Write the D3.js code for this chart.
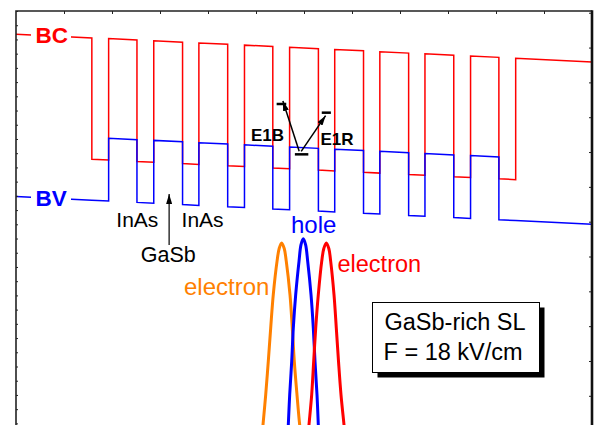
<!DOCTYPE html>
<html>
<head>
<meta charset="utf-8">
<script src="https://cdn.jsdelivr.net/npm/d3@7"></script>
<style>
  html, body { margin: 0; padding: 0; background: #fff; }
  svg { display: block; font-family: "Liberation Sans", Arial, Helvetica, sans-serif; }
</style>
</head>
<body>
<svg id="chart" width="597" height="425"></svg>
<script>
// ---- Superlattice layer stack (growth direction, nm) ----
const layerBounds = [0, 15.8, 19.3, 25.2, 28.7, 34.7, 38.1, 44.1, 47.6, 53.5, 57.0,
                     63.0, 66.4, 72.4, 75.8, 81.8, 85.2, 91.2, 94.7, 100.6, 104.1, 120];
const layerMaterial = ["barrier", "InAs", "GaSb", "InAs", "GaSb", "InAs", "GaSb", "InAs",
                       "GaSb", "InAs", "GaSb", "InAs", "GaSb", "InAs", "GaSb", "InAs",
                       "GaSb", "InAs", "GaSb", "InAs", "barrier"];

// Conduction band edge (eV) at the left and right side of every layer
const bcEdges = [
  [0.337, 0.311], [-0.543, -0.548], [0.306, 0.296], [-0.558, -0.564], [0.290, 0.281],
  [-0.573, -0.579], [0.275, 0.266], [-0.588, -0.594], [0.260, 0.250], [-0.604, -0.609],
  [0.245, 0.235], [-0.619, -0.625], [0.229, 0.220], [-0.634, -0.640], [0.214, 0.204],
  [-0.650, -0.655], [0.199, 0.189], [-0.665, -0.671], [0.183, 0.174], [-0.680, -0.686],
  [0.168, 0.142]
];
// Valence band edge (eV) at the left and right side of every layer
const bvEdges = [
  [-0.805, -0.831], [-0.831, -0.836], [-0.395, -0.405], [-0.846, -0.852], [-0.410, -0.420],
  [-0.861, -0.867], [-0.426, -0.435], [-0.876, -0.882], [-0.441, -0.451], [-0.892, -0.897],
  [-0.456, -0.466], [-0.907, -0.913], [-0.472, -0.481], [-0.922, -0.928], [-0.487, -0.496],
  [-0.938, -0.943], [-0.502, -0.512], [-0.953, -0.959], [-0.517, -0.527], [-0.968, -0.974],
  [-0.974, -1.000]
];

// Energy levels marked in the central period (nm range, eV)
const levelNames = ["E1B", "E1R", "H1"];
const levelX = [[54.3, 56.3], [63.7, 65.6], [58.1, 60.9]];
const levelE = [-0.154, -0.215, -0.508];

// Probability densities |psi|^2 (position nm, arbitrary units)
const electronBlue = [
  [51.35, 0], [51.46, 0.034], [52.02, 0.206], [52.56, 0.398], [53.06, 0.589], [53.60, 0.781],
  [54.38, 0.972], [54.83, 1.046], [55.35, 1.078], [55.88, 1.046], [56.31, 0.972], [57.08, 0.781],
  [57.56, 0.589], [57.98, 0.398], [58.54, 0.206], [59.10, 0.034], [59.27, 0]
];
const holeState = [
  [56.67, 0], [56.73, 0.034], [57.02, 0.206], [57.44, 0.398], [57.77, 0.589], [58.27, 0.781],
  [58.96, 0.972], [59.38, 1.068], [59.85, 1.102], [60.33, 1.068], [60.77, 0.972], [61.46, 0.781],
  [61.94, 0.589], [62.29, 0.398], [62.71, 0.206], [62.98, 0.034], [63.04, 0]
];
const electronRed = [
  [60.94, 0], [61.04, 0.034], [61.60, 0.206], [62.02, 0.398], [62.44, 0.589], [62.98, 0.781],
  [63.69, 0.972], [64.13, 1.046], [64.65, 1.078], [65.17, 1.046], [65.56, 0.972], [66.25, 0.781],
  [66.73, 0.589], [67.19, 0.398], [67.71, 0.206], [68.33, 0.034], [68.44, 0]
];

// ---- Layout ----
const svg = d3.select("#chart");
const frameL = 16, frameR = 592, frameT = 11, frameB = 437.6;

const x = d3.scaleLinear().domain([0, 120]).range([frameL, frameR]);
const yE = d3.scaleLinear().domain([-2.5, 0.5]).range([frameB, frameT]);
const yPsi = d3.scaleLinear().domain([-0.04, 2.41]).range([frameB, frameT]);

const RED = "#ff0000", BLUE = "#0000ff", ORANGE = "#ff8000";

const defs = svg.append("defs");
defs.append("clipPath").attr("id", "plotClip")
  .append("rect").attr("x", frameL).attr("y", frameT)
  .attr("width", frameR - frameL).attr("height", frameB - frameT);

defs.append("marker")
  .attr("id", "head").attr("viewBox", "0 0 10 6")
  .attr("refX", 10).attr("refY", 3)
  .attr("markerWidth", 10).attr("markerHeight", 6)
  .attr("markerUnits", "userSpaceOnUse").attr("orient", "auto")
  .append("path").attr("d", "M0,0 L10,3 L0,6 Z").attr("fill", "#000");

// ---- Band profiles ----
function profile(edges) {
  const pts = [];
  edges.forEach((e, i) => {
    pts.push([layerBounds[i], e[0]]);
    pts.push([layerBounds[i + 1], e[1]]);
  });
  return pts;
}
const bandLine = d3.line().x(d => x(d[0])).y(d => yE(d[1]));
const plot = svg.append("g").attr("clip-path", "url(#plotClip)");

plot.append("path").datum(profile(bcEdges))
  .attr("d", bandLine).attr("fill", "none")
  .attr("stroke", RED).attr("stroke-width", 1.5).attr("stroke-linejoin", "miter");
plot.append("path").datum(profile(bvEdges))
  .attr("d", bandLine).attr("fill", "none")
  .attr("stroke", BLUE).attr("stroke-width", 1.5).attr("stroke-linejoin", "miter");

// ---- Wavefunctions ----
const psiLine = d3.line().x(d => x(d[0])).y(d => yPsi(d[1])).curve(d3.curveCatmullRom.alpha(0.5));
[[electronBlue, ORANGE], [holeState, BLUE], [electronRed, RED]].forEach(([data, c]) => {
  plot.append("path").datum(data).attr("d", psiLine)
    .attr("fill", "none").attr("stroke", c).attr("stroke-width", 3);
});

// ---- Band labels (break the line on the left) ----
function bandLabel(text, color, yPix) {
  svg.append("rect").attr("x", 31).attr("y", yPix - 13).attr("width", 40).attr("height", 26).attr("fill", "#fff");
  svg.append("text").attr("x", 35.5).attr("y", yPix + 8)
    .attr("font-size", 22.5).attr("font-weight", "bold").attr("fill", color).text(text);
}
bandLabel("BC", RED, yE(bcEdges[0][0]) + 0.5);
bandLabel("BV", BLUE, yE(bvEdges[0][0]) + 1);

// ---- Layer annotations ----
const ann = svg.append("g").attr("fill", "#000").attr("font-size", 21);
ann.append("text").attr("x", x(20.9)).attr("y", 226.5).text("InAs");
ann.append("text").attr("x", x(34.5)).attr("y", 226.5).text("InAs");
ann.append("text").attr("x", x(26.0)).attr("y", 261.5).attr("font-size", 21.5).text("GaSb");
ann.append("line").attr("x1", x(31.9)).attr("y1", 245).attr("x2", x(31.9)).attr("y2", 194)
  .attr("stroke", "#000").attr("stroke-width", 1.2).attr("marker-end", "url(#head)");

// ---- Energy levels and transition arrows ----
const lv = svg.append("g");
levelX.forEach((r, i) => {
  lv.append("line").attr("x1", x(r[0])).attr("x2", x(r[1]))
    .attr("y1", yE(levelE[i])).attr("y2", yE(levelE[i]))
    .attr("stroke", "#000").attr("stroke-width", 2.5);
});
const fromX = x(59.0), fromY = yE(levelE[2]) - 3;
lv.append("line").attr("x1", fromX).attr("y1", fromY)
  .attr("x2", x(55.6)).attr("y2", yE(levelE[0]) - 3)
  .attr("stroke", "#000").attr("stroke-width", 1.5).attr("marker-end", "url(#head)");
lv.append("line").attr("x1", fromX + 2).attr("y1", fromY)
  .attr("x2", x(64.5)).attr("y2", yE(levelE[1]) + 3)
  .attr("stroke", "#000").attr("stroke-width", 1.5).attr("marker-end", "url(#head)");
lv.append("text").attr("x", 251).attr("y", 140.5).attr("font-size", 17)
  .attr("font-weight", "bold").text(levelNames[0]);
lv.append("text").attr("x", 320.5).attr("y", 145).attr("font-size", 17)
  .attr("font-weight", "bold").text(levelNames[1]);

// ---- Wavefunction labels ----
svg.append("text").attr("x", 184).attr("y", 295).attr("font-size", 24).attr("fill", ORANGE).text("electron");
svg.append("text").attr("x", 291).attr("y", 232.5).attr("font-size", 24).attr("fill", BLUE).text("hole");
svg.append("text").attr("x", 337.5).attr("y", 272).attr("font-size", 23.5).attr("fill", RED).text("electron");

// ---- Info box with drop shadow ----
const bx = 372.5, by = 302.5, bw = 167, bh = 70;
svg.append("rect").attr("x", bx + 5).attr("y", by + 5).attr("width", bw).attr("height", bh).attr("fill", "#000");
svg.append("rect").attr("x", bx).attr("y", by).attr("width", bw).attr("height", bh)
  .attr("fill", "#fff").attr("stroke", "#000").attr("stroke-width", 1);
svg.append("text").attr("x", 384.5).attr("y", 330).attr("font-size", 23.5).text("GaSb-rich SL");
svg.append("text").attr("x", 383.5).attr("y", 360).attr("font-size", 23.5).text("F = 18 kV/cm");

// ---- Frame and tick marks ----
const axes = svg.append("g").attr("color", "#222");
axes.append("g").attr("transform", `translate(0,${frameT})`)
  .call(d3.axisTop(x).tickValues(x.ticks(12).slice(1, -1)).tickSize(-3).tickFormat(""))
  .call(g => g.select(".domain").remove());
axes.append("g").attr("transform", `translate(${frameL},0)`)
  .call(d3.axisLeft(yE).ticks(30).tickSize(-2).tickFormat(""))
  .call(g => g.select(".domain").remove());
axes.append("g").attr("transform", `translate(${frameR},0)`)
  .call(d3.axisRight(yPsi).ticks(12).tickSize(-3).tickFormat(""))
  .call(g => g.select(".domain").remove());

svg.append("path")
  .attr("d", `M${frameL},${frameB}V${frameT}H${frameR}`)
  .attr("fill", "none").attr("stroke", "#222").attr("stroke-width", 1.6);
svg.append("line").attr("x1", frameR).attr("x2", frameR).attr("y1", frameT - 0.8).attr("y2", frameB)
  .attr("stroke", "#111").attr("stroke-width", 2.6);
</script>
</body>
</html>
